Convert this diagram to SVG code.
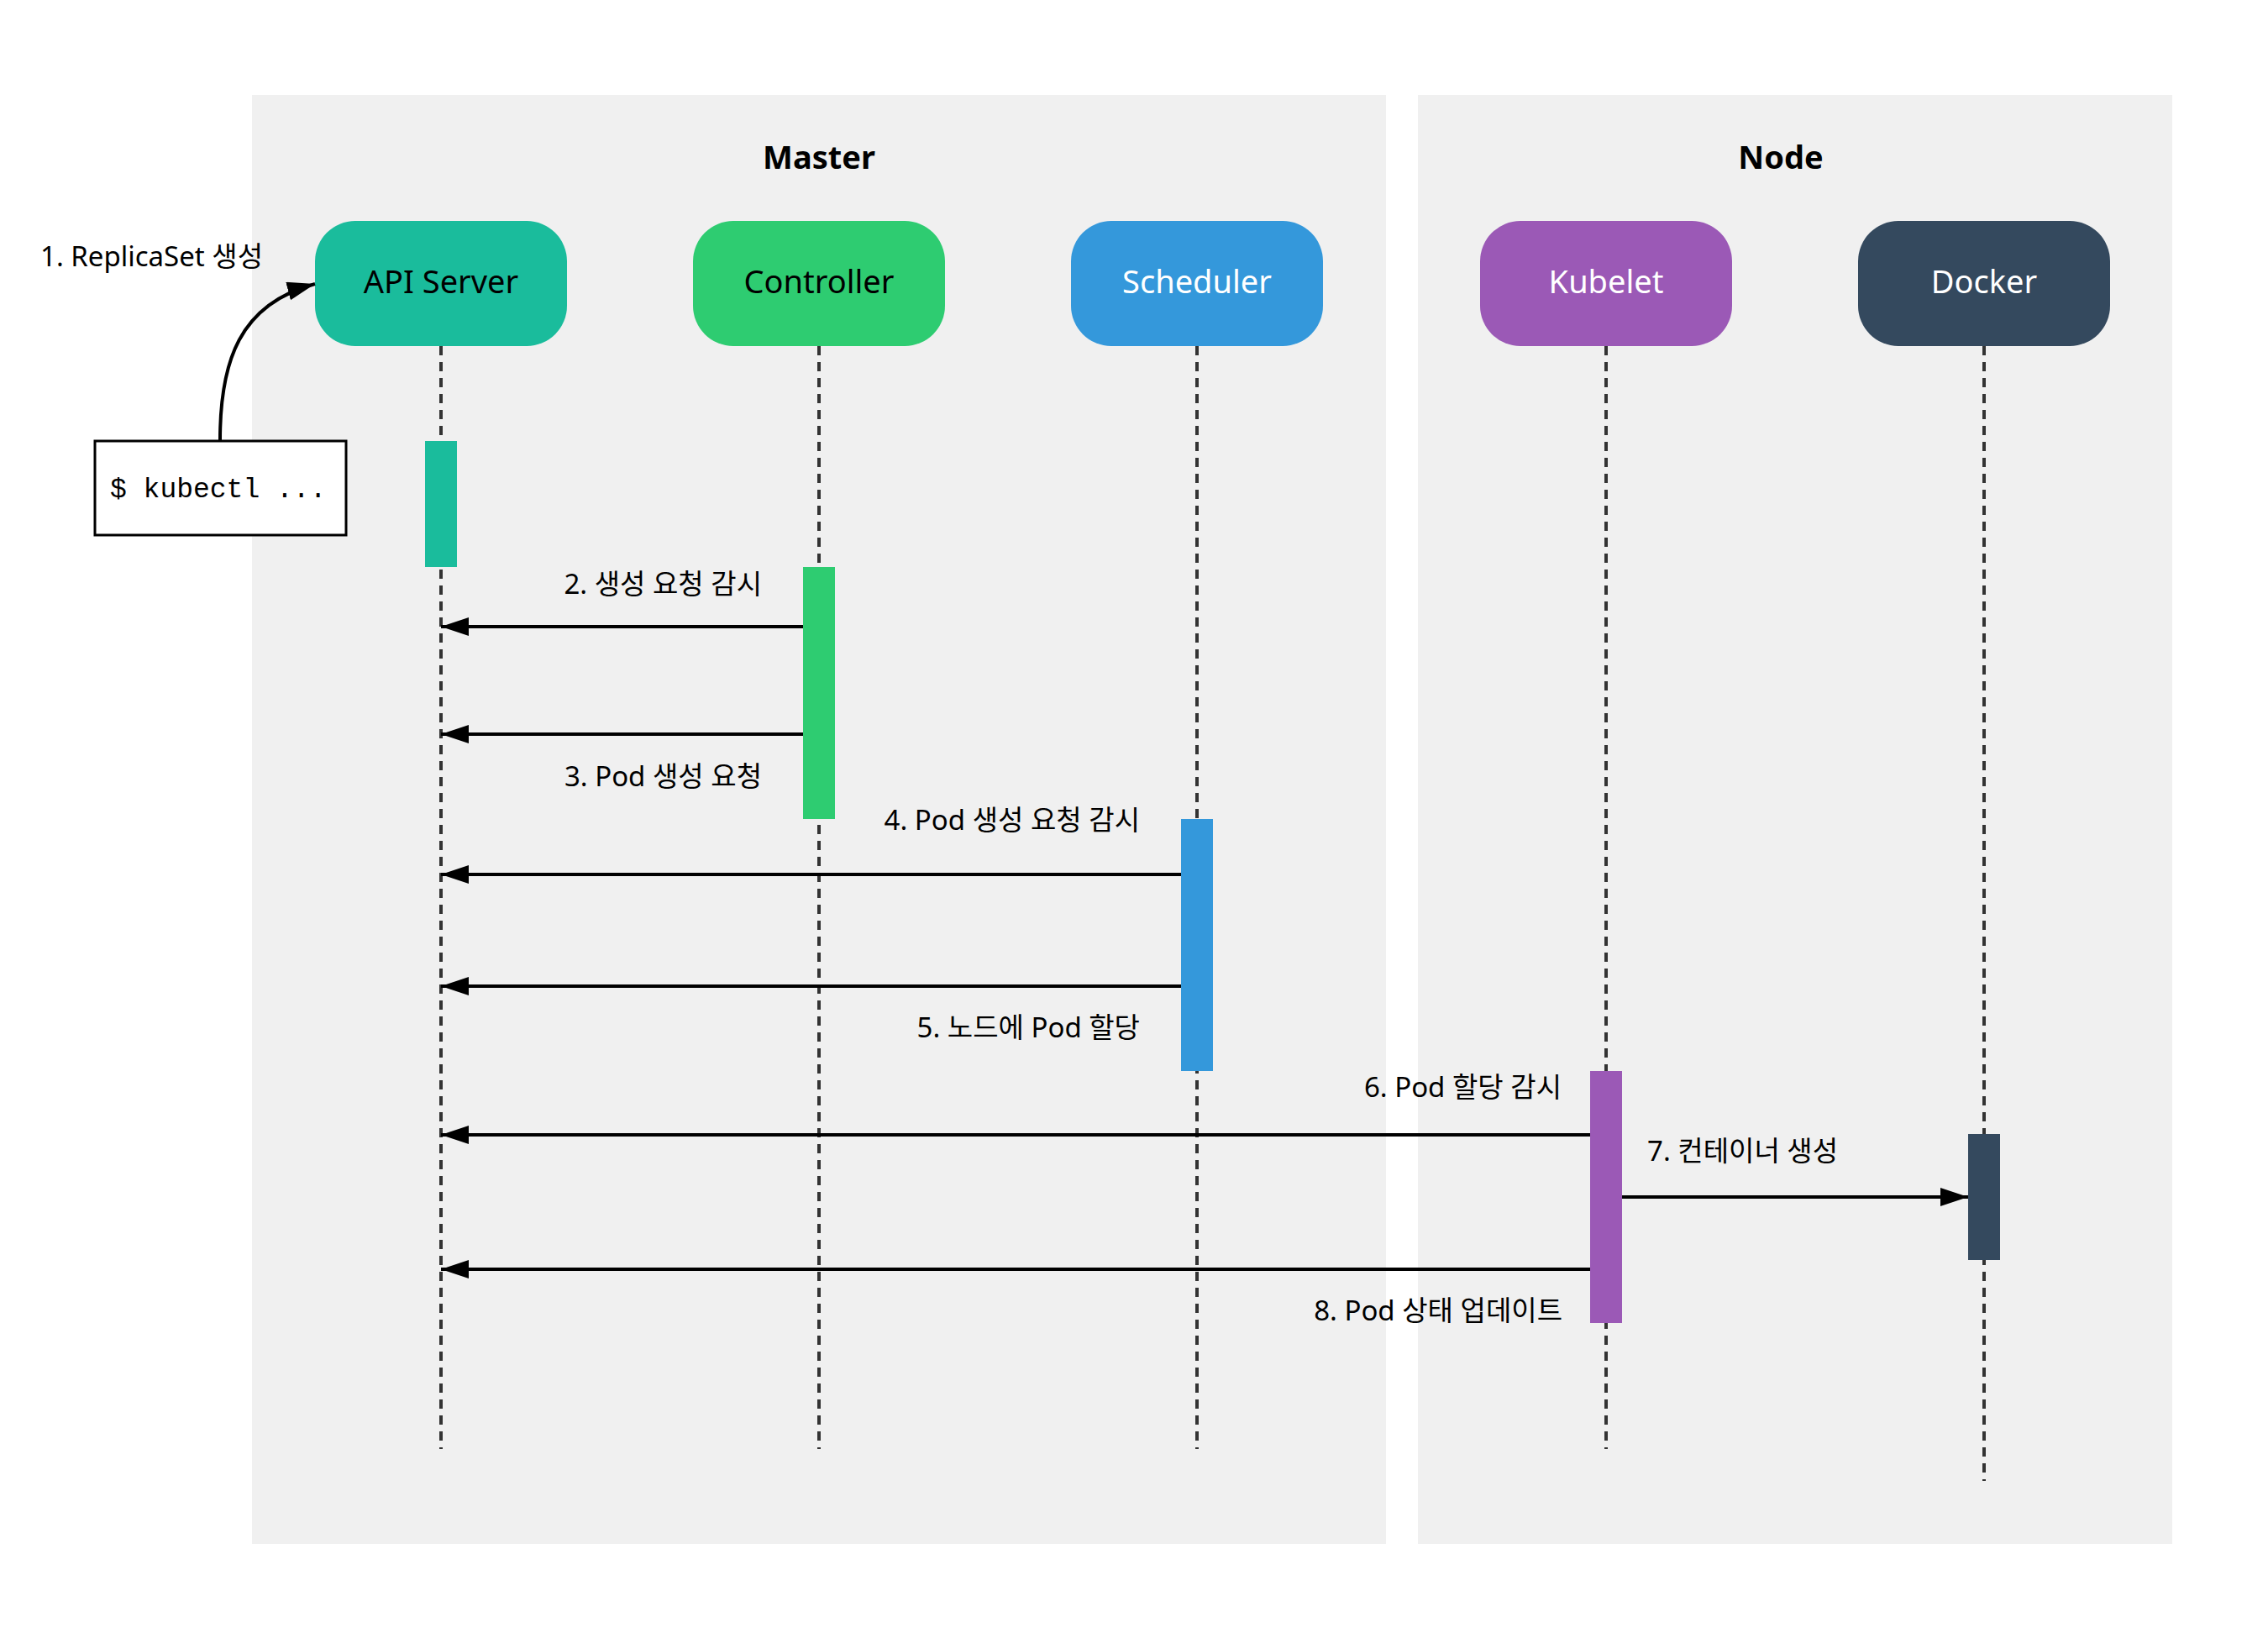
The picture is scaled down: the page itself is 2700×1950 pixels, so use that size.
<svg xmlns="http://www.w3.org/2000/svg" width="2700" height="1950" viewBox="0 0 2700 1950">
<style>
.panel{fill:#F0F0F0}
.title{font-family:"Noto Sans","Noto Sans CJK KR",sans-serif;font-weight:bold;font-size:38px;fill:#000;text-anchor:middle}
.nlabel{font-family:"Noto Sans","Noto Sans CJK KR",sans-serif;font-size:38px;text-anchor:middle}
.life{stroke:#333;stroke-width:4;stroke-dasharray:11 8;fill:none}
.msg{stroke:#000;stroke-width:4;fill:none}
.lbl{font-family:"Noto Sans","Noto Sans CJK KR",sans-serif;font-size:33px;fill:#000}
.end{text-anchor:end}
</style>
<defs>
<marker id="ah" markerUnits="userSpaceOnUse" markerWidth="34" markerHeight="24" refX="33" refY="11" orient="auto">
<path d="M0,0 L33,11 L0,22 Z" fill="#000"/>
</marker>
</defs>
<rect width="2700" height="1950" fill="#FFFFFF"/>
<g id="master-panel">
<rect class="panel" x="300" y="113" width="1350" height="1725"/>
<text class="title" x="975" y="201">Master</text>
</g>
<g id="node-panel">
<rect class="panel" x="1688" y="113" width="898" height="1725"/>
<text class="title" x="2120" y="201">Node</text>
</g>
<g id="lifelines">
<line class="life" x1="525" y1="412" x2="525" y2="1725"/>
<line class="life" x1="975" y1="412" x2="975" y2="1725"/>
<line class="life" x1="1425" y1="412" x2="1425" y2="1725"/>
<line class="life" x1="1912" y1="412" x2="1912" y2="1725"/>
<line class="life" x1="2362" y1="412" x2="2362" y2="1763"/>
</g>
<g id="api-server">
<rect x="375" y="263" width="300" height="149" rx="48" ry="48" fill="#1ABC9C"/>
<text class="nlabel" x="525" y="349" fill="#000">API Server</text>
<rect x="506" y="525" width="38" height="150" fill="#1ABC9C"/>
</g>
<g id="controller">
<rect x="825" y="263" width="300" height="149" rx="48" ry="48" fill="#2ECC71"/>
<text class="nlabel" x="975" y="349" fill="#000">Controller</text>
<rect x="956" y="675" width="38" height="300" fill="#2ECC71"/>
</g>
<g id="scheduler">
<rect x="1275" y="263" width="300" height="149" rx="48" ry="48" fill="#3498DB"/>
<text class="nlabel" x="1425" y="349" fill="#FFF">Scheduler</text>
<rect x="1406" y="975" width="38" height="300" fill="#3498DB"/>
</g>
<g id="kubelet">
<rect x="1762" y="263" width="300" height="149" rx="48" ry="48" fill="#9B59B6"/>
<text class="nlabel" x="1912" y="349" fill="#FFF">Kubelet</text>
<rect x="1893" y="1275" width="38" height="300" fill="#9B59B6"/>
</g>
<g id="docker">
<rect x="2212" y="263" width="300" height="149" rx="48" ry="48" fill="#34495E"/>
<text class="nlabel" x="2362" y="349" fill="#FFF">Docker</text>
<rect x="2343" y="1350" width="38" height="150" fill="#34495E"/>
</g>
<g id="kubectl">
<rect x="113" y="525" width="299" height="112" fill="#FFF" stroke="#000" stroke-width="3"/>
<text x="131" y="592" font-family="'Liberation Mono',monospace" font-size="33" fill="#000">$ kubectl ...</text>
</g>
<g id="connectors">
<path class="msg" d="M262,524 C262,430 285,362 375,338" marker-end="url(#ah)"/>
<line class="msg" x1="956" y1="746" x2="525" y2="746" marker-end="url(#ah)"/>
<line class="msg" x1="956" y1="874" x2="525" y2="874" marker-end="url(#ah)"/>
<line class="msg" x1="1406" y1="1041" x2="525" y2="1041" marker-end="url(#ah)"/>
<line class="msg" x1="1406" y1="1174" x2="525" y2="1174" marker-end="url(#ah)"/>
<line class="msg" x1="1893" y1="1351" x2="525" y2="1351" marker-end="url(#ah)"/>
<line class="msg" x1="1931" y1="1425" x2="2343" y2="1425" marker-end="url(#ah)"/>
<line class="msg" x1="1893" y1="1511" x2="525" y2="1511" marker-end="url(#ah)"/>
</g>
<g id="labels">
<text class="lbl" x="48" y="317">1. ReplicaSet 생성</text>
<text class="lbl end" x="907" y="707">2. 생성 요청 감시</text>
<text class="lbl end" x="907" y="936">3. Pod 생성 요청</text>
<text class="lbl end" x="1357" y="988">4. Pod 생성 요청 감시</text>
<text class="lbl end" x="1357" y="1235">5. 노드에 Pod 할당</text>
<text class="lbl end" x="1859" y="1306">6. Pod 할당 감시</text>
<text class="lbl" x="1961" y="1382">7. 컨테이너 생성</text>
<text class="lbl end" x="1860" y="1572">8. Pod 상태 업데이트</text>
</g>
</svg>
